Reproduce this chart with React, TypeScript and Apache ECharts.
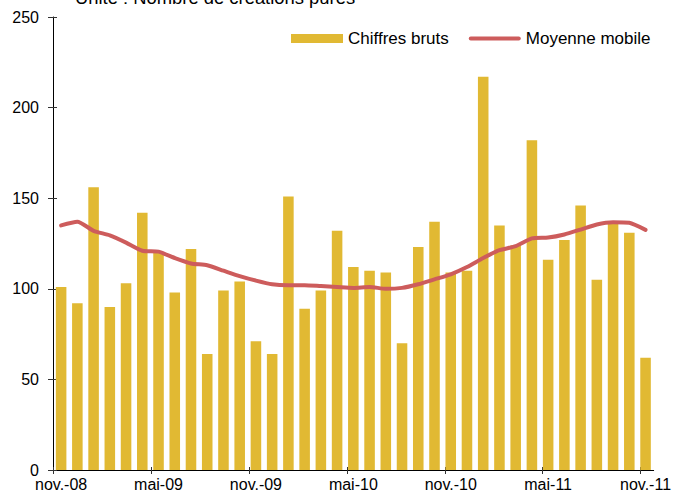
import React, { useEffect, useRef } from "react";
import * as echarts from "echarts";

const months: string[] = [
  "nov.-08", "déc.-08", "janv.-09", "févr.-09", "mars-09", "avr.-09",
  "mai-09", "juin-09", "juil.-09", "août-09", "sept.-09", "oct.-09",
  "nov.-09", "déc.-09", "janv.-10", "févr.-10", "mars-10", "avr.-10",
  "mai-10", "juin-10", "juil.-10", "août-10", "sept.-10", "oct.-10",
  "nov.-10", "déc.-10", "janv.-11", "févr.-11", "mars-11", "avr.-11",
  "mai-11", "juin-11", "juil.-11", "août-11", "sept.-11", "oct.-11",
  "nov.-11",
];

const chiffresBruts: number[] = [
  101, 92, 156, 90, 103, 142, 120, 98, 122, 64,
  99, 104, 71, 64, 151, 89, 99, 132, 112, 110,
  109, 70, 123, 137, 109, 110, 217, 135, 124, 182,
  116, 127, 146, 105, 137, 131, 62,
];

const moyenneMobile: number[] = [
  135, 137, 132, 129.5, 125.5, 121, 120.5, 117, 114, 113,
  110, 107, 104.5, 102.5, 102, 102, 101.5, 101, 100.5, 101,
  100, 100.5, 102.5, 105.2, 108, 112, 117, 121.3, 123.5, 127.8,
  128.3, 130, 132.7, 135.5, 136.7, 136.4, 132.5,
];

const yTicks = { min: 0, max: 250, interval: 50 };
const seriesNames = ["Chiffres bruts", "Moyenne mobile"];
const titleText = "Unité : Nombre de créations pures";

const FONT = '"Liberation Sans", Arial, sans-serif';
const BAR_COLOR = "#E1B933";
const LINE_COLOR = "#CD5C5C";
const LINE_ICON = "path://M2,0 L50,0 A2,2 0 0 1 50,4 L2,4 A2,2 0 0 1 2,0 Z";

export default function App() {
  const ref = useRef<HTMLDivElement>(null);

  useEffect(() => {
    if (!ref.current) return;
    const chart = echarts.init(ref.current, null, { renderer: "svg" });
    const W = 674;
    const gridLeft = 53;
    const gridRight = 17;
    const plotW = W - gridLeft - gridRight;
    const band = plotW / months.length;

    chart.setOption({
      animation: false,
      backgroundColor: "#fff",
      textStyle: { fontFamily: FONT },
      graphic: [
        {
          type: "text",
          x: 75,
          y: -12,
          style: {
            text: titleText,
            font: `18.4px ${FONT}`,
            fill: "#000",
            verticalAlign: "top",
          },
        },
      ],
      legend: {
        left: 286,
        top: 25,
        itemWidth: 52,
        itemHeight: 9,
        itemGap: 20,
        symbolKeepAspect: true,
        textStyle: { fontSize: 17, color: "#000", fontFamily: FONT },
        data: [
          { name: seriesNames[0], icon: "rect" },
          { name: seriesNames[1], icon: LINE_ICON },
        ],
      },
      grid: [
        { left: gridLeft, right: gridRight, top: 17, bottom: 25 },
        { left: gridLeft, width: band * (months.length - 1), top: 17, bottom: 25 },
      ],
      xAxis: [
        {
          type: "category",
          gridIndex: 0,
          data: months,
          boundaryGap: true,
          axisLine: { lineStyle: { color: "#000", width: 1 } },
          axisTick: { show: false },
          axisLabel: {
            interval: 5,
            fontSize: 16,
            color: "#000",
            margin: 6,
            fontFamily: FONT,
          },
        },
        {
          type: "value",
          gridIndex: 1,
          position: "bottom",
          min: 0,
          max: 36,
          interval: 6,
          axisLine: { show: false },
          axisTick: { show: true, length: 4, lineStyle: { color: "#333" } },
          axisLabel: { show: false },
          splitLine: { show: false },
        },
        {
          type: "value",
          gridIndex: 1,
          position: "bottom",
          min: 0,
          max: 36,
          interval: 6,
          axisLine: { show: false },
          axisTick: { show: true, inside: true, length: 3, lineStyle: { color: "#333" } },
          axisLabel: { show: false },
          splitLine: { show: false },
        },
      ],
      yAxis: [
        {
          type: "value",
          gridIndex: 0,
          position: "left",
          ...yTicks,
          axisLine: { show: true, lineStyle: { color: "#000", width: 1 } },
          axisTick: { show: true, length: 5, lineStyle: { color: "#333" } },
          axisLabel: { fontSize: 16, color: "#000", margin: 14, fontFamily: FONT },
          splitLine: { show: false },
        },
        {
          type: "value",
          gridIndex: 0,
          position: "left",
          offset: 0,
          ...yTicks,
          axisLine: { show: false },
          axisTick: { show: true, inside: true, length: 4, lineStyle: { color: "#333" } },
          axisLabel: { show: false },
          splitLine: { show: false },
        },
        {
          type: "value",
          gridIndex: 1,
          ...yTicks,
          show: false,
        },
      ],
      series: [
        {
          name: seriesNames[0],
          type: "bar",
          xAxisIndex: 0,
          yAxisIndex: 0,
          data: chiffresBruts,
          barCategoryGap: "35%",
          itemStyle: { color: BAR_COLOR },
        },
        {
          name: seriesNames[1],
          type: "line",
          xAxisIndex: 0,
          yAxisIndex: 0,
          data: moyenneMobile,
          symbol: "none",
          smooth: 0.2,
          lineStyle: { color: LINE_COLOR, width: 4, cap: "round", join: "round" },
          itemStyle: { color: LINE_COLOR },
        },
      ],
    });

    return () => chart.dispose();
  }, []);

  return (
    <div
      ref={ref}
      style={{ position: "fixed", left: 0, top: 0, width: 674, height: 495, background: "#fff" }}
    />
  );
}
